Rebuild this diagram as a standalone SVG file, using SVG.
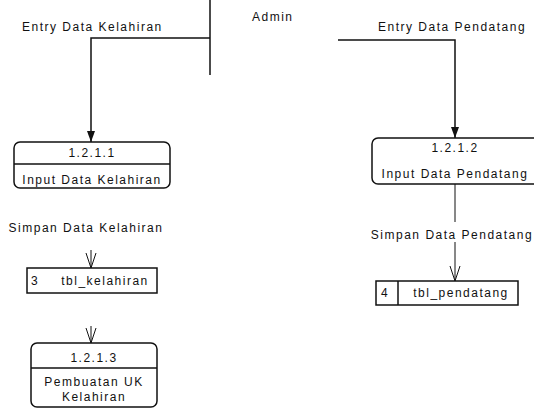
<svg xmlns="http://www.w3.org/2000/svg" width="534" height="410" viewBox="0 0 534 410">
<style>
text{font-family:"Liberation Sans",Arial,sans-serif;font-size:12px;letter-spacing:1.5px;fill:#111}
.c{text-anchor:middle}
.box{fill:#fff;stroke:#111;stroke-width:1.5}
.ln{fill:none;stroke:#111;stroke-width:1.5}
.thin{fill:none;stroke:#111;stroke-width:1}
</style>
<defs>
<marker id="solid" markerWidth="12" markerHeight="10" refX="11" refY="5" orient="auto" markerUnits="userSpaceOnUse" viewBox="0 0 12 10">
<path d="M0,1 L11,5 L0,9 Z" fill="#111"/>
</marker>
<marker id="open" markerWidth="16" markerHeight="12" refX="15" refY="6" orient="auto" markerUnits="userSpaceOnUse" viewBox="0 0 16 12">
<path d="M0,1 L15,6 L0,11" fill="none" stroke="#111" stroke-width="1"/>
</marker>
</defs>
<rect width="534" height="410" fill="#fff"/>
<g id="admin">
<line x1="210" y1="0" x2="210" y2="75" class="ln"/>
<text x="252" y="21">Admin</text>
</g>
<g id="connectors">
<path d="M210,38 H91 V142" class="ln" marker-end="url(#solid)"/>
<text x="22" y="31">Entry Data Kelahiran</text>
<path d="M338,40 H455 V138" class="ln" marker-end="url(#solid)"/>
<text x="378" y="31">Entry Data Pendatang</text>
<text x="86" y="232" class="c">Simpan Data Kelahiran</text>
<path d="M91,250 V268" class="thin" marker-end="url(#open)"/>
<path d="M455,184 V222 M455,242 V281" class="thin" marker-end="url(#open)"/>
<text x="452" y="239" class="c">Simpan Data Pendatang</text>
<path d="M91,326 V343" class="thin" marker-end="url(#open)"/>
</g>
<g id="p1211">
<rect x="14" y="142" width="156" height="46" rx="6" class="box"/>
<line x1="14" y1="164" x2="170" y2="164" class="ln"/>
<text x="92" y="157" class="c">1.2.1.1</text>
<text x="92" y="184" class="c">Input Data Kelahiran</text>
</g>
<g id="p1212">
<rect x="372" y="138" width="168" height="46" rx="6" class="box"/>
<text x="455" y="152" class="c">1.2.1.2</text>
<text x="455" y="178" class="c">Input Data Pendatang</text>
</g>
<g id="s3">
<rect x="27" y="268" width="130" height="25" class="box"/>
<text x="31" y="285">3</text>
<text x="105" y="285" class="c">tbl_kelahiran</text>
</g>
<g id="s4">
<rect x="376" y="281" width="142" height="24" class="box"/>
<line x1="398" y1="281" x2="398" y2="305" class="ln"/>
<text x="381" y="297">4</text>
<text x="461" y="297" class="c">tbl_pendatang</text>
</g>
<g id="p1213">
<rect x="31" y="343" width="126" height="64" rx="6" class="box"/>
<line x1="31" y1="368" x2="157" y2="368" class="ln"/>
<text x="94" y="362" class="c">1.2.1.3</text>
<text x="94" y="386" class="c">Pembuatan UK</text>
<text x="94" y="401" class="c">Kelahiran</text>
</g>
</svg>
